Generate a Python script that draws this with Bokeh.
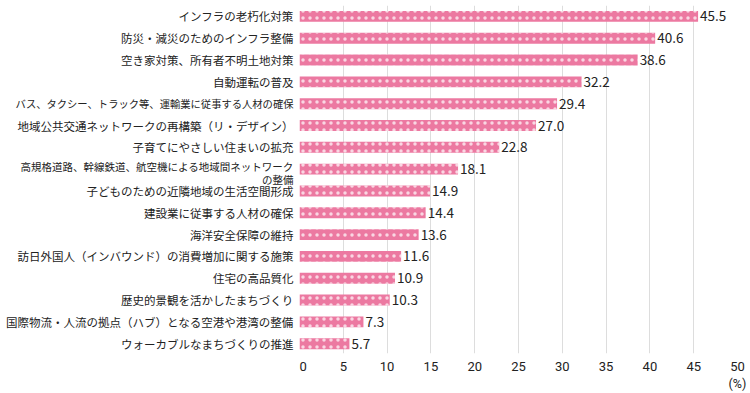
from bokeh.plotting import figure
from bokeh.layouts import row
from bokeh.models import Range1d, FixedTicker, ColumnDataSource, LabelSet, LinearAxis
from bokeh.core.properties import value
from bokeh.embed import file_html
from bokeh.resources import INLINE

categories = [
    "インフラの老朽化対策",
    "防災・減災のためのインフラ整備",
    "空き家対策、所有者不明土地対策",
    "自動運転の普及",
    "バス、タクシー、トラック等、運輸業に従事する人材の確保",
    "地域公共交通ネットワークの再構築（リ・デザイン）",
    "子育てにやさしい住まいの拡充",
    "高規格道路、幹線鉄道、航空機による地域間ネットワーク\nの整備",
    "子どものための近隣地域の生活空間形成",
    "建設業に従事する人材の確保",
    "海洋安全保障の維持",
    "訪日外国人（インバウンド）の消費増加に関する施策",
    "住宅の高品質化",
    "歴史的景観を活かしたまちづくり",
    "国際物流・人流の拠点（ハブ）となる空港や港湾の整備",
    "ウォーカブルなまちづくりの推進",
]
values = [45.5, 40.6, 38.6, 32.2, 29.4, 27.0, 22.8, 18.1, 14.9, 14.4, 13.6, 11.6, 10.9, 10.3, 7.3, 5.7]
x_ticks = [0, 5, 10, 15, 20, 25, 30, 35, 40, 45, 50]
unit_label = "(%)"

# per-label styling (long labels shrunk so they fit in the margin)
size_override = {4: "10.3px", 7: "10.5px"}
offset_override = {7: 3.5}

pos = list(range(len(categories)))
src = ColumnDataSource(dict(
    y=pos, v=values, lab=[f"{v:.1f}" for v in values], one=[1] * len(pos),
    cat=categories,
    fs=[size_override.get(i, "11.5px") for i in pos],
    yo=[offset_override.get(i, 0) for i in pos],
))

JP = "Noto Sans CJK JP"
H = 393
TOP = 5
BOTTOM = 36
LEFT_W = 299
MAIN_W = 750 - LEFT_W
yr = Range1d(15.45, -0.5)

# left panel with category labels
left = figure(width=LEFT_W, height=H, output_backend="svg", toolbar_location=None,
              x_range=Range1d(0, 1), y_range=yr,
              min_border_left=0, min_border_right=0, min_border_top=TOP, min_border_bottom=BOTTOM)
left.outline_line_color = None
left.axis.visible = False
left.grid.grid_line_color = None
left.text(x="one", y="y", text="cat", source=src, x_offset=-6, y_offset="yo",
          text_align="right", text_baseline="middle", text_font=value(JP),
          text_font_size="fs", text_color="#222222", text_line_height=0.88)

# main bar chart
p = figure(width=MAIN_W, height=H, output_backend="svg", toolbar_location=None,
           x_range=Range1d(0, 50), y_range=yr,
           min_border_left=0, min_border_right=13, min_border_top=TOP, min_border_bottom=BOTTOM)
p.outline_line_color = None

p.hbar(y="y", right="v", left=0, height=0.5, source=src,
       fill_color="#EC79A1", line_color=None,
       hatch_pattern="dot", hatch_color="white", hatch_scale=7, hatch_weight=0.5,
       hatch_alpha=0.7)

vlabels = LabelSet(x="v", y="y", text="lab", source=src, x_offset=2,
                   text_baseline="middle", text_font=value(JP), text_font_size="13.5px",
                   text_color="#222222")
p.add_layout(vlabels)

p.xaxis.ticker = FixedTicker(ticks=x_ticks)
p.xaxis.axis_line_color = None
p.xaxis.major_tick_line_color = None
p.xaxis.minor_tick_line_color = None
p.xaxis.major_label_text_font = "Roboto"
p.xaxis.major_label_text_font_size = "13px"
p.xaxis.major_label_text_color = "#222222"
p.xaxis.major_label_standoff = 2
p.yaxis.visible = False

# unit "(%)" shown under the 50 tick as a second axis row
unit_axis = LinearAxis(ticker=FixedTicker(ticks=[x_ticks[-1]]),
                       major_label_overrides={x_ticks[-1]: unit_label},
                       axis_line_color=None, major_tick_line_color=None,
                       minor_tick_line_color=None, major_label_standoff=-4,
                       major_label_text_font="Roboto", major_label_text_font_size="12.5px",
                       major_label_text_color="#222222")
p.add_layout(unit_axis, "below")

p.xgrid.grid_line_color = "#DDDDDD"
p.xgrid.grid_line_width = 1
p.ygrid.grid_line_color = None

layout = row(left, p)
open("out.html", "w").write(file_html(layout, INLINE))
